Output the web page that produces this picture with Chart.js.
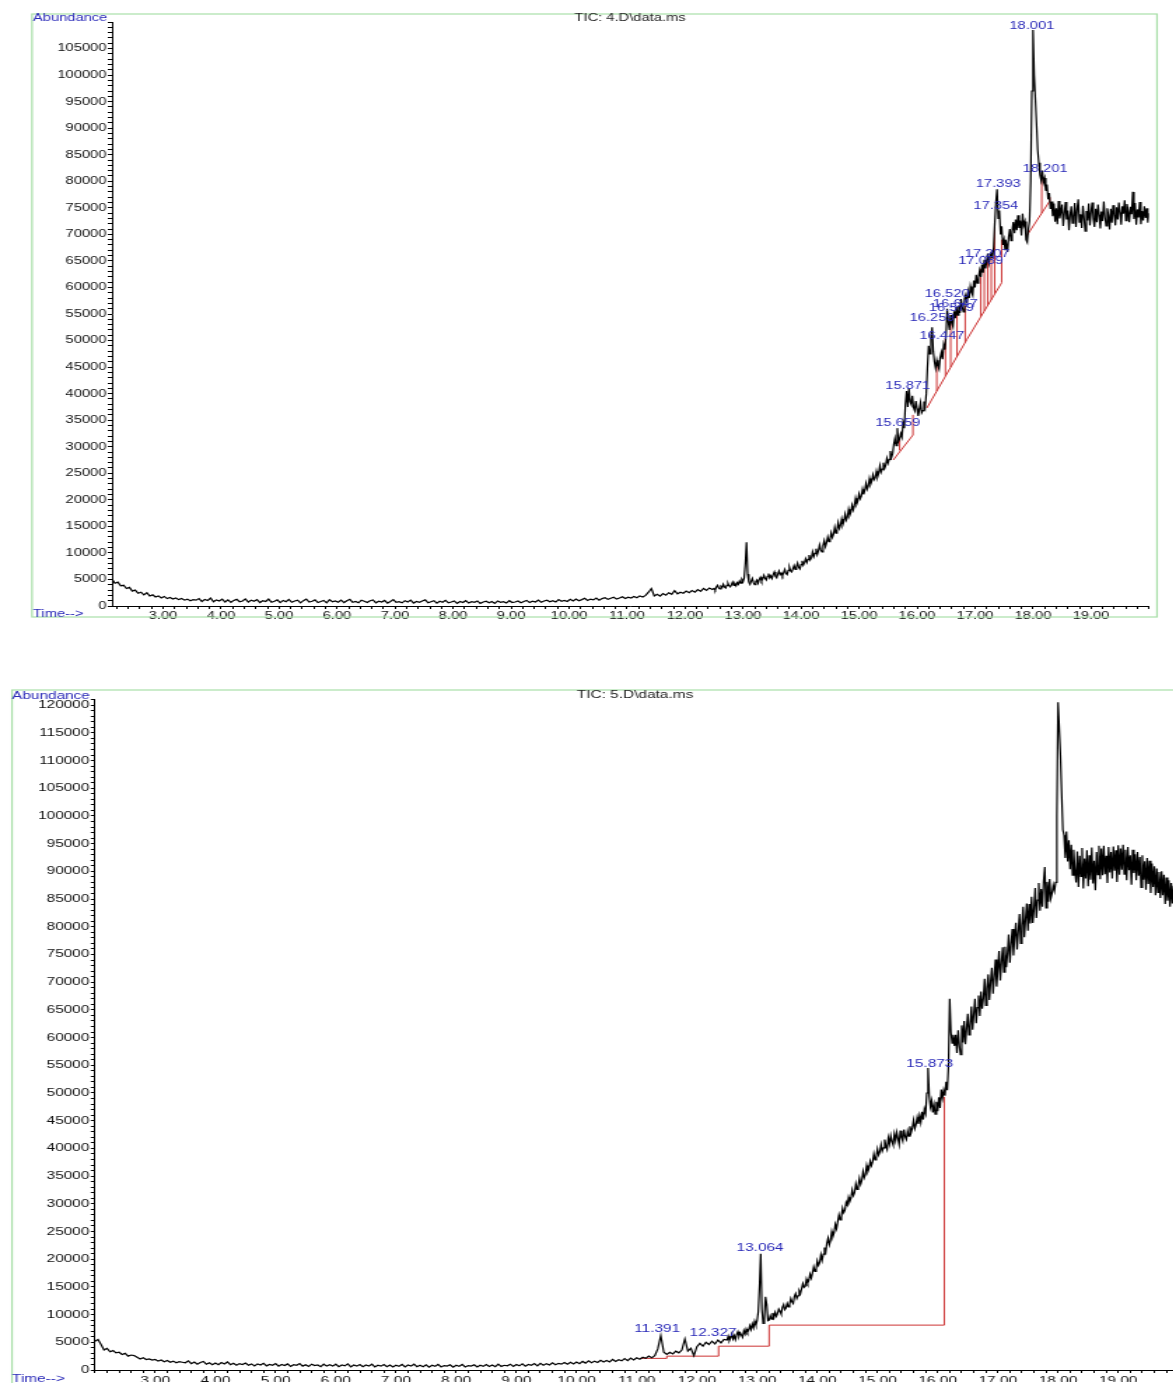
<!DOCTYPE html>
<html><head><meta charset="utf-8">
<script src="https://cdn.jsdelivr.net/npm/chart.js@4.4.1/dist/chart.umd.min.js"></script>
<style>
html,body{margin:0;padding:0;background:#fff;overflow:hidden;width:1173px;height:1383px;position:relative;}
.wrap{position:absolute;left:0;transform-origin:0 0;transform:scaleX(1.4);}
canvas{display:block;}
</style></head><body>
<div class="wrap" style="top:0px"><canvas id="c1" width="838" height="640"></canvas></div>
<div class="wrap" style="top:680px"><canvas id="c2" width="860" height="703"></canvas></div>
<script>
// ---------------- DATA: TIC 4.D ----------------
const tic4Title = 'TIC: 4.D\\data.ms';
const tic4StartA = 2.12, tic4StepA = 0.05;
const tic4ValuesA = [
5100,4300,4500,3800,3900,3300,3500,2800,3000,2400,
2600,2100,2500,1900,2100,1700,1900,1500,1800,1400,
1600,1300,1500,1200,1400,1100,1300,1000,1200,1100,
1400,850,1250,1050,1500,800,1150,950,1300,750,
1150,700,1050,1250,800,950,1350,750,1100,900,
1200,650,1000,850,1300,700,900,1150,650,1050,
800,1250,700,950,1100,600,1000,1300,750,900,
1150,650,850,1050,600,1200,800,950,700,1100,
650,1000,1250,700,850,600,1100,900,650,1000,
1150,600,900,750,1050,550,850,1200,700,800,
600,1000,750,1100,550,850,700,950,1150,600,
800,1000,550,900,700,1050,600,750,950,500,
850,650,1000,550,800,700,950,500,750,900,
600,850,500,950,700,800,550,1000,650,750,
950,600,850,1050,650,900,750,1100,700,950,
1100,800,1000,750,1200,900,1050,850,1250,950,
1300,1000,1200,1450,1050,1300,1150,1500,1100,1400,
1550,1250,1450,1650,1300,1500,1750,1400,1650,1500,
1800,1550,1900,1700,2000,2600,3300,1900,2200,1850,
2350,2050,2500,2200,2900,2300,2600,2400,2800,2500,
2900,2600,3100,2750,3300,2950,3400,3100
];
const tic4StartB = 12.50, tic4StepB = 0.02;
const tic4ValuesB = [
3300,3000,3600,3900,3400,3200,3700,3500,4100,3600,
3400,3900,4300,3800,3600,4000,4500,3900,4200,3800,
4400,4100,4700,4300,5000,4600,5300,8000,12000,6000,
4500,4100,4700,5200,4400,4000,4600,4900,4300,5000,
5400,4700,5100,5800,5200,4900,5600,6100,5300,5700,
5200,5900,6400,5600,5300,6000,6600,5900,6200,5700,
6300,6900,6100,5900,6700,7300,6600,6400,7000,7600,
6900,7400,8100,7300,7000,7800,8500,7700,8200,8900,
8200,8800,9600,8700,9100,10200,9300,9900,10800,9700,
10400,11500,10600,10200,11400,12300,11200,11900,13000,12100,
12600,13800,12900,13500,14800,13700,14300,15700,14600,15200,
16400,15300,16000,17300,16200,16800,18200,17100,17700,19000,
18100,18900,20300,19200,19800,21100,20200,20700,22000,21000,
21800,23100,22000,22600,24000,22900,23500,24700,23800,24200,
25400,24300,25000,26400,25200,25800,27000,25900,26500,27800,
26900,27600,29200,28000,28700,30500,31600,30200,33500,31000,
31500,32500,31800,34500,33500,38000,40500,37500,41000,38500,
38000,39600,37400,36800,38600,37200,35800,37000,38300,36400,
36800,38500,37500,40000,45000,49000,47500,50500,52500,48000,
46000,44800,46300,45200,44600,46800,47800,46500,49200,48300,
51000,56000,53500,52000,54800,53300,52600,55500,54200,56300,
54800,56600,55200,57800,56300,55400,57900,58600,57100,59200,
58000,60200,59100,58500,61300,60000,62400,60800,61900,63200,
62000,64300,62800,65200,63600,64800,66400,64600,65800,66500,
65500,67500,72000,76000,78500,73000,74500,70000,71500,68000,
69000,67000,68200,66700,69500,71000,68800,70600,72300,70200,
72800,70800,73600,71200,72600,69800,73900,71700,72400,69000,
68500,71000,72500,80000,97000,108500,100000,95500,91000,86000,
83500,81200,80200,82000,79800,80600,78200,79400,76600,77800,
74800,76200,73400,75800,72400,74900,71900,76300,73000,74200,
75600,71600,73900,76100,72800,74500,70800,73600,75300,72100,
73400,75900,71400,74700,76600,72300,73800,71200,75400,73100,
70600,74400,72600,75800,71700,74200,76000,72900,71400,74800,
72300,75600,73700,71100,74300,72500,76200,73300,71600,74900,
73600,70900,74800,72200,75500,73800,71700,75100,72800,76000,
74100,71800,75300,73900,76400,72600,75700,74400,72300,75200,
73800,78000,72900,75900,71800,74700,73200,76100,71900,74400,
72600,75300,73100,74900,72200,74000
];
// integration baselines (red), null = break
const tic4BaseT = [15.59,15.93,null, 15.70,15.70,null, 15.93,15.93,null,
  16.17,16.86,null, 16.34,16.34,null, 16.49,16.49,null, 16.58,16.58,null, 16.69,16.69,null, 16.83,16.83,null,
  16.86,17.46,null, 17.10,17.10,null, 17.16,17.16,null, 17.22,17.22,null, 17.28,17.28,null, 17.34,17.34,null, 17.46,17.46,null,
  17.89,18.29,null, 18.15,18.15,null, 18.29,18.29];
const tic4BaseV = [27500,32200,null, 29300,31500,null, 32200,36000,null,
  37300,50200,null, 40500,45800,null, 43300,50500,null, 45000,54000,null, 47000,55500,null, 49600,56500,null,
  50200,60900,null, 54500,63500,null, 55600,64000,null, 56700,65000,null, 57700,66000,null, 58800,72000,null, 60900,69000,null,
  69700,76300,null, 74000,81000,null, 76300,77000];
const tic4Peaks = ['15.659','15.871','16.259','16.447','16.520','16.579','16.647','17.089','17.207','17.354','17.393','18.001','18.201'];
const tic4PeakT = [15.67,15.84,16.26,16.43,16.52,16.59,16.66,17.10,17.21,17.36,17.40,17.98,18.21];
const tic4PeakV = [34500,41500,54200,50900,58700,56200,56800,64900,66200,75300,79400,109200,82300];

// ---------------- DATA: TIC 5.D ----------------
const tic5Title = 'TIC: 5.D\\data.ms';
const tic5StartA = 2.00, tic5StepA = 0.05;
const tic5ValuesA = [
5200,5500,4600,3600,3900,3300,3500,3100,3200,2800,
3000,2500,2700,2600,2300,2000,2200,1900,2000,1800,
1900,1600,1800,1500,1700,1400,1600,1300,1500,1400,
1300,1650,1150,1450,1050,1350,1550,1050,1300,950,
1250,950,1350,1100,1450,950,1200,850,1150,1000,
1250,850,1100,750,1100,900,1200,750,1000,850,
1150,700,1000,800,1100,650,950,850,1150,700,
950,650,1050,800,900,600,1050,700,950,700,
1050,600,900,750,1100,550,900,700,1000,600,
900,700,1050,550,850,700,1000,600,900,550,
850,650,1000,550,900,700,1050,600,850,600,
950,500,850,650,1000,550,800,700,950,500,
850,650,1000,550,800,700,950,550,850,650,
1000,650,900,600,1050,650,850,750,1050,650,
1000,750,1100,700,1000,850,1150,750,1200,850,
1150,900,1300,950,1200,1050,1350,1050,1400,1100,
1450,1150,1550,1250,1650,1300,1600,1350,1750,1450,
1700,1450,1900,1550,1850,1650,2050,1700,2150,1800,
2200,1950,2300,2100,2500,2200,2600,3800,6200,3200,
2800,3200,2900,3400,3100,3600,5600,3400,3900,2600,
4200,4800,4300,5000,4600,5200,4700,5400,4900,5500
];
const tic5StartB = 12.50, tic5StepB = 0.02;
const tic5ValuesB = [
5400,6100,5300,5800,6500,5600,6200,5500,6400,6900,
6100,6700,6300,5900,7100,6500,7400,6800,7200,8000,
7300,8300,7600,8800,8100,8900,10500,15000,21000,11000,
8400,9300,13200,11800,8900,9000,9800,9200,10300,9500,
10400,9700,10200,11000,10600,10100,11300,11800,10900,11200,
12000,11400,11900,12900,12300,12000,13300,13800,12900,13400,
14300,13800,14700,15600,14900,15100,16400,15700,16200,17300,
16600,17500,18600,17800,18200,19700,18900,19400,20800,19800,
20900,22100,21300,22900,23800,22600,23400,25000,24100,24800,
26300,25500,26800,28000,27100,27600,29200,28400,28900,30300,
29800,31200,30400,31000,32500,31500,32000,33600,32600,33200,
34600,33500,34200,35800,34700,35300,36900,35800,36400,37700,
36900,37600,39000,37900,38500,39900,38800,39400,40700,39500,
40100,41600,40400,39800,41900,40800,42300,41200,40600,42600,
41400,42900,41800,40700,43200,42000,41300,43400,42100,41600,
43100,42200,44000,42900,43700,45100,43600,44300,45600,44400,
45900,44700,46600,45200,47100,46300,50000,54500,49500,47500,
48600,46500,47900,46200,48400,46700,49200,47300,50600,49100,
50500,49500,52000,50500,55000,67000,61000,59000,60500,58500,
60500,57200,61300,58600,56900,62200,59100,63000,58800,61600,
64300,60500,62100,65600,61400,64200,67000,62600,65400,67600,
63900,68300,65200,67100,70600,65800,68900,71400,66800,70100,
72600,67900,71000,74100,69200,72300,75600,70300,73600,76300,
71800,76400,72700,75100,78600,73500,76900,79600,74800,78300,
80700,75900,79200,82300,77000,80200,83600,78100,81400,84200,
79300,84100,80600,85400,80700,83200,87000,81600,84800,87900,
82900,86800,83600,88200,90800,83400,88100,84500,88600,85100,
86000,87500,86500,88000,100000,120500,116000,111000,104000,97500,
96500,92400,97200,91800,95600,90400,94800,89300,93900,90200,
88000,93600,87200,92800,89100,94200,86900,92300,88700,93800,
87300,92900,88500,94300,87800,91900,86600,93500,89400,94600,
88600,94100,89300,94600,89500,92800,87900,94400,89800,93500,
88700,94500,90100,93800,88100,94700,89400,94100,90300,94800,
89500,93900,88400,94400,90200,92900,87600,93900,89700,93100,
88400,93500,89200,92600,87100,92900,88500,91800,86700,92400,
87700,91900,86100,91400,87200,90900,85700,90500,86200,89900,
85200,90000,85700,89400,84100,88900,84700,88400,83600,87900,
84200,87400,83200,86900,82700,86400
];
const tic5BaseT = [11.06,11.50,11.50,12.36,12.36,13.20,13.20,16.11,16.11];
const tic5BaseV = [2100,2100,2500,2500,4300,4300,8100,8100,49300];
const tic5Peaks = ['11.391','12.327','13.064','15.873'];
const tic5PeakT = [11.34,12.27,13.05,15.87];
const tic5PeakV = [7400,6700,22000,55200];

// ---------------- helpers ----------------
const S = 1.4; // horizontal stretch of the printout
const BLUE = '#2a2ab8';
const FONT = "'Liberation Sans', Arial, sans-serif";

function series(start, step, vals) {
  return vals.map((v, i) => ({x: Math.round((start + step * i) * 1000) / 1000, y: v}));
}
function pairs(ts, vs) {
  return ts.map((t, i) => ({x: t === null ? ts[i - 1] : t, y: vs[i]}));
}

function build(canvasId, cfg) {
  const data = series(cfg.startA, cfg.stepA, cfg.valsA).concat(series(cfg.startB, cfg.stepB, cfg.valsB));
  const decor = {
    id: 'decor' + canvasId,
    afterDraw(chart) {
      const ctx = chart.ctx, xs = chart.scales.x, ys = chart.scales.y;
      ctx.save();
      ctx.strokeStyle = '#a9dfa9';
      ctx.lineWidth = 1.2;
      const f = cfg.frame;
      ctx.strokeRect(f[0], f[1], f[2] - f[0], f[3] - f[1]);
      ctx.textBaseline = 'middle';
      ctx.font = cfg.fontSize + 'px ' + FONT;
      ctx.fillStyle = BLUE;
      ctx.textAlign = 'left';
      ctx.fillText('Abundance', cfg.abund[0], cfg.abund[1]);
      ctx.fillText('Time-->', cfg.time[0], cfg.time[1]);
      ctx.fillStyle = '#222';
      ctx.textAlign = 'center';
      ctx.fillText(cfg.title, cfg.titlePos[0], cfg.titlePos[1]);
      ctx.fillStyle = BLUE;
      cfg.peaks.forEach((s, i) => {
        ctx.fillText(s, xs.getPixelForValue(cfg.peakT[i]), ys.getPixelForValue(cfg.peakV[i]));
      });
      ctx.restore();
    }
  };
  const fit = (w, h) => (scale) => {
    if (w !== null) scale.width = w;
    if (h !== null) scale.height = h;
    scale.paddingTop = 0; scale.paddingBottom = 0; scale.paddingLeft = 0; scale.paddingRight = 0;
  };
  const tickFont = {family: FONT, size: cfg.fontSize};
  return new Chart(document.getElementById(canvasId), {
    type: 'line',
    data: {
      datasets: [
        {data: data, borderColor: '#000', borderWidth: 1.2, pointRadius: 0, tension: 0, fill: false},
        {data: pairs(cfg.baseT, cfg.baseV), borderColor: '#cc3333', borderWidth: 1, pointRadius: 0, tension: 0, fill: false, spanGaps: false}
      ]
    },
    options: {
      responsive: false,
      animation: false,
      events: [],
      layout: {padding: cfg.pad},
      plugins: {legend: {display: false}, tooltip: {enabled: false}, title: {display: false}},
      scales: {
        x: {
          type: 'linear', min: cfg.xMin, max: cfg.xMax,
          afterFit: fit(null, cfg.xAxisH),
          border: {display: true, color: '#000', width: 1},
          grid: {drawOnChartArea: false, drawTicks: true, tickLength: 3, tickColor: '#000', color: '#000'},
          ticks: {
            stepSize: 0.2, autoSkip: false, maxRotation: 0, minRotation: 0, includeBounds: false,
            padding: 1, color: '#111', font: tickFont,
            callback: (v) => (Math.abs(v - Math.round(v)) < 1e-6 && v > 2.5 && v < 19.5) ? Number(v).toFixed(2) : ''
          }
        },
        y: {
          type: 'linear', min: 0, max: cfg.yMax,
          afterFit: fit(cfg.yAxisW, null),
          border: {display: true, color: '#000', width: 1},
          grid: {drawOnChartArea: false, drawTicks: true, tickLength: 3, tickColor: '#000', color: '#000'},
          ticks: {
            stepSize: 1000, autoSkip: false, includeBounds: false, padding: 1, color: '#111', font: tickFont,
            callback: (v) => (Math.round(v) % 5000 === 0 && v <= cfg.yMax - 1000) ? String(Math.round(v)) : ''
          }
        }
      }
    },
    plugins: [decor]
  });
}

// top chart: canvas 838x640 (page y 0..640)
build('c1', {
  startA: tic4StartA, stepA: tic4StepA, valsA: tic4ValuesA,
  startB: tic4StartB, stepB: tic4StepB, valsB: tic4ValuesB,
  baseT: tic4BaseT, baseV: tic4BaseV,
  peaks: tic4Peaks, peakT: tic4PeakT, peakV: tic4PeakV,
  title: tic4Title,
  xMin: 2.12, xMax: 20.0, yMax: 110000,
  yAxisW: 60, xAxisH: 20,
  pad: {left: 112 / S - 60, right: 838 - 1149 / S, top: 22, bottom: 640 - 606 - 20},
  fontSize: 10.5,
  frame: [32 / S, 14, 1157 / S, 617],
  abund: [33 / S, 18.5], time: [33 / S, 614], titlePos: [630 / S, 18.5]
});

// bottom chart: canvas 860x703 (page y 680..1383)
build('c2', {
  startA: tic5StartA, stepA: tic5StepA, valsA: tic5ValuesA,
  startB: tic5StartB, stepB: tic5StepB, valsB: tic5ValuesB,
  baseT: tic5BaseT, baseV: tic5BaseV,
  peaks: tic5Peaks, peakT: tic5PeakT, peakV: tic5PeakV,
  title: tic5Title,
  xMin: 2.0, xMax: 20.0, yMax: 121000,
  yAxisW: 60, xAxisH: 12,
  pad: {left: 95 / S - 60, right: 860 - 1178.4 / S, top: 19.6, bottom: 703 - 690 - 12},
  fontSize: 11,
  frame: [12 / S, 10, 900, 720],
  abund: [12 / S, 15.5], time: [12 / S, 699], titlePos: [635 / S, 15]
});
</script>
</body></html>
